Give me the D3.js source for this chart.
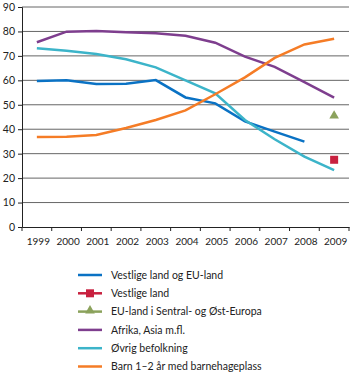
<!DOCTYPE html>
<html><head><meta charset="utf-8">
<script src="https://cdn.jsdelivr.net/npm/d3@7"></script>
<style>body{margin:0;background:#fff}svg{display:block}text{font-family:Lato,sans-serif;fill:#222}</style>
</head><body><svg id="c" width="350" height="373"></svg>
<script>
const years = ["1999","2000","2001","2002","2003","2004","2005","2006","2007","2008","2009"];
const vestligeEU = [59.7,60.0,58.5,58.6,60.1,53.0,50.6,43.2,39.0,34.9,null];
const vestlige = [null,null,null,null,null,null,null,null,null,null,27.5];
const euSentral = [null,null,null,null,null,null,null,null,null,null,45.5];
const afrikaAsia = [75.6,79.9,80.2,79.7,79.3,78.2,75.4,69.7,65.5,59.3,52.9];
const ovrig = [73.1,72.1,70.8,68.6,65.3,60.0,54.7,43.8,35.9,28.8,23.3];
const barn = [36.8,36.9,37.6,40.5,43.8,47.7,54.3,61.2,69.2,74.7,77.0];
const yTicks = [0,10,20,30,40,50,60,70,80,90];
const labels = ["Vestlige land og EU-land","Vestlige land","EU-land i Sentral- og Øst-Europa","Afrika, Asia m.fl.","Øvrig befolkning","Barn 1–2 år med barnehageplass"];

const colors = {blue:"#0a72c4",red:"#c8203f",green:"#8ba25c",purple:"#7e3e8e",teal:"#3cb4c9",orange:"#f57c26"};
const svg = d3.select("#c");
const x = d3.scaleBand().domain(years).range([22,349]);
const y = d3.scaleLinear().domain([0,90]).range([227,7]);
const cx = d => x(d) + x.bandwidth()/2;

svg.append("g").selectAll("line").data(yTicks.filter(t=>t>0)).join("line")
  .attr("x1",22).attr("x2",349).attr("y1",d=>y(d)).attr("y2",d=>y(d))
  .attr("stroke","#666").attr("stroke-width",1);

const ya = svg.append("g").attr("transform","translate(22,0)")
  .call(d3.axisLeft(y).tickValues(yTicks).tickSize(4).tickPadding(3));
ya.select(".domain").attr("stroke","#222");
ya.selectAll("line").attr("stroke","#222");
ya.selectAll("text").attr("font-size","10.5px").attr("font-family","Lato").attr("fill","#222");

const xa = svg.append("g").attr("transform","translate(0,227)")
  .call(d3.axisBottom(x).tickSize(0).tickPadding(11));
xa.select(".domain").attr("stroke","#222");
xa.selectAll("text").attr("font-size","10px").attr("font-family","Lato").attr("fill","#222").attr("dx","1.5");
const bounds = years.map(d=>x(d)).concat([x.range()[1]]);
svg.append("g").selectAll("line").data(bounds).join("line")
  .attr("x1",d=>d).attr("x2",d=>d).attr("y1",227).attr("y2",231).attr("stroke","#222");

const line = d3.line().defined(d=>d.v!=null).x(d=>cx(d.y)).y(d=>y(d.v));
const series = [
  {vals:vestligeEU,c:colors.blue},
  {vals:afrikaAsia,c:colors.purple},
  {vals:ovrig,c:colors.teal},
  {vals:barn,c:colors.orange}
];
series.forEach(s=>{
  svg.append("path").datum(years.map((yr,i)=>({y:yr,v:s.vals[i]})))
    .attr("d",line).attr("fill","none").attr("stroke",s.c).attr("stroke-width",2.5);
});
years.forEach((yr,i)=>{
  if(vestlige[i]!=null){
    svg.append("rect").attr("x",cx(yr)-4).attr("y",y(vestlige[i])-4).attr("width",8).attr("height",8).attr("fill",colors.red);
  }
  if(euSentral[i]!=null){
    svg.append("path").attr("d",d3.symbol(d3.symbolTriangle,40)())
      .attr("transform",`translate(${cx(yr)},${y(euSentral[i])})`).attr("fill",colors.green);
  }
});

const lc = [colors.blue,colors.red,colors.green,colors.purple,colors.teal,colors.orange];
const lg = svg.append("g");
labels.forEach((t,i)=>{
  const yy = 275 + i*18.3;
  lg.append("line").attr("x1",78).attr("x2",102).attr("y1",yy).attr("y2",yy).attr("stroke",lc[i]).attr("stroke-width",2.5);
  if(i===1) lg.append("rect").attr("x",86).attr("y",yy-4).attr("width",8).attr("height",8).attr("fill",lc[i]);
  if(i===2) lg.append("path").attr("d",d3.symbol(d3.symbolTriangle,40)()).attr("transform",`translate(90,${yy-1})`).attr("fill",lc[i]);
  lg.append("text").attr("x",111).attr("y",yy).attr("dy","0.35em").attr("font-size","10.5px").text(t);
});
</script></body></html>
